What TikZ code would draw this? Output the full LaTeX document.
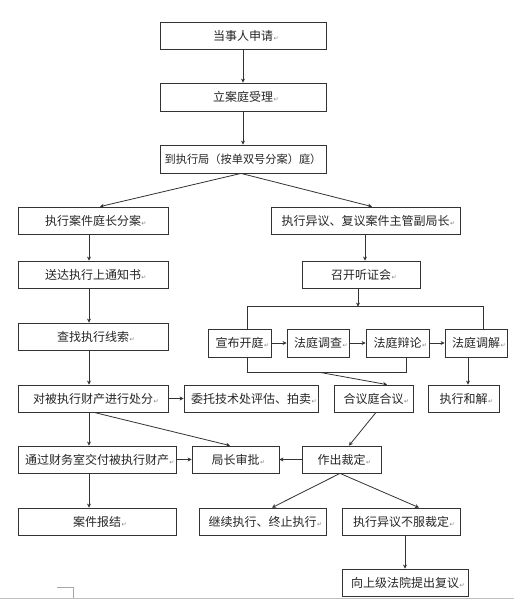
\documentclass[tikz,border=0pt]{standalone}
\usepackage{fontspec}
\setmainfont{Noto Sans CJK SC}
\newfontfamily\symfont{DejaVu Sans}
\usetikzlibrary{arrows.meta}
\definecolor{ln}{HTML}{333333}
\newcommand{\parmark}{\rlap{\kern0.5pt\symfont\fontsize{6}{6}\selectfont\color{gray}↵}}
\newcommand{\bt}[1]{\raisebox{-4.5pt}{#1\parmark}}
\newcommand{\btn}[1]{\raisebox{-4.5pt}{#1}}
\tikzset{
  box/.style={draw=ln, line width=0.8pt, inner sep=0pt, minimum height=27pt, font=\fontsize{12}{12}\selectfont, text=black!85},
  arr/.style={draw=ln, line width=0.8pt, -{Stealth[length=4pt,width=4pt]}},
  ln/.style={draw=ln, line width=0.8pt}
}
\begin{document}
\begin{tikzpicture}[x=1pt,y=-1pt]
\useasboundingbox (0,0) rectangle (514,600);
\fill[white] (0,0) rectangle (514,600);
% nodes
\node[box,minimum width=166pt] (a1) at (243,35.5) {\bt{当事人申请}};
\node[box,minimum width=166pt,minimum height=28pt] (a2) at (243,97) {\bt{立案庭受理}};
\node[box,minimum width=166pt,minimum height=28pt,font=\fontsize{11.2}{12}\selectfont] (a3) at (243,159) {\btn{到执行局（按单双号分案）庭）}};
\node[box,minimum width=150pt] (l1) at (93,220.5) {\bt{执行案件庭长分案}};
\node[box,minimum width=189pt] (r1) at (365.5,220.5) {\bt{执行异议、复议案件主管副局长}};
\node[box,minimum width=150pt] (l2) at (93,274.5) {\bt{送达执行上通知书}};
\node[box,minimum width=118pt] (r2) at (361,274.5) {\bt{召开听证会}};
\node[box,minimum width=150pt] (l3) at (93,336.5) {\bt{查找执行线索}};
\node[box,minimum width=63pt,minimum height=28pt] (p1) at (239.5,343) {\bt{宣布开庭}};
\node[box,minimum width=62pt,minimum height=28pt] (p2) at (318,343) {\bt{法庭调查}};
\node[box,minimum width=63pt,minimum height=28pt] (p3) at (397.5,343) {\bt{法庭辩论}};
\node[box,minimum width=62pt,minimum height=28pt] (p4) at (476,343) {\bt{法庭调解}};
\node[box,minimum width=150pt] (l4) at (93,398.5) {\bt{对被执行财产进行处分}};
\node[box,minimum width=134pt] (m4) at (251,398.5) {\bt{委托技术处评估、拍卖}};
\node[box,minimum width=79pt] (h4) at (373.5,398.5) {\bt{合议庭合议}};
\node[box,minimum width=71pt] (j4) at (463.5,398.5) {\bt{执行和解}};
\node[box,minimum width=158pt] (l5) at (97,459.5) {\bt{通过财务室交付被执行财产}};
\node[box,minimum width=87pt] (m5) at (235.5,459.5) {\bt{局长审批}};
\node[box,minimum width=79pt] (z5) at (341.5,459.5) {\bt{作出裁定}};
\node[box,minimum width=158pt] (l6) at (97,521.5) {\bt{案件报结}};
\node[box,minimum width=127pt] (m6) at (262.5,521.5) {\bt{继续执行、终止执行}};
\node[box,minimum width=118pt] (r6) at (401,521.5) {\bt{执行异议不服裁定}};
\node[box,minimum width=126pt] (f7) at (405,582.5) {\bt{向上级法院提出复议}};
% connectors
\draw[arr] (a1.south) -- (a2.north);
\draw[arr] (a2.south) -- (a3.north);
\draw[arr] ([xshift=-2pt]a3.south) -- ([xshift=7pt]l1.north);
\draw[arr] ([xshift=-2pt]a3.south) -- ([xshift=6.5pt]r1.north);
\draw[arr] ([xshift=-4pt]l1.south) -- ([xshift=-4pt]l2.north);
\draw[arr] ([xshift=-4pt]l2.south) -- ([xshift=-4pt]l3.north);
\draw[arr] ([xshift=-4pt]l3.south) -- ([xshift=-4pt]l4.north);
\draw[arr] ([xshift=-0.5pt]r1.south) -- ([xshift=-0.5pt]r1.south |- r2.north);
\coordinate (tl) at ([xshift=7.5pt,yshift=22pt]p1.north);
\coordinate (tr) at ([xshift=7pt,yshift=22pt]p4.north);
\draw[ln] ([xshift=7.5pt]p1.north) -- (tl) -- (tr) -- ([xshift=7pt]p4.north);
\draw[arr] ([xshift=-3pt]r2.south) -- ([xshift=-3pt]r2.south |- tl);
\draw[arr] (p1.east) -- (p2.west);
\draw[arr] (p2.east) -- (p3.west);
\draw[arr] (p3.east) -- (p4.west);
\coordinate (bl) at ([xshift=7.5pt,yshift=-15pt]p1.south);
\coordinate (br) at ([xshift=8.5pt,yshift=-15pt]p3.south);
\coordinate (bm) at ([xshift=73pt]bl);
\draw[ln] ([xshift=7.5pt]p1.south) -- (bl) -- (br) -- ([xshift=8.5pt]p3.south);
\draw[arr] (bm) -- ([xshift=13.5pt]h4.north);
\draw[arr] ([xshift=-8pt]p4.south) -- ([xshift=-8pt]p4.south |- j4.north);
\draw[arr] (l4.east) -- (m4.west);
\draw[arr] ([xshift=-4pt]l4.south) -- ([xshift=-4pt]l4.south |- l5.north);
\draw[arr] ([xshift=1pt]l4.south) -- ([xshift=-5.5pt]m5.north);
\draw[arr] (l5.east) -- (m5.west);
\draw[arr] (z5.west) -- (m5.east);
\draw[arr] ([xshift=2.5pt]h4.south) -- ([xshift=7.5pt]z5.north);
\draw[arr] ([xshift=-8pt]l5.south) -- ([xshift=-8pt]l5.south |- l6.north);
\draw[arr] ([xshift=-1.5pt]z5.south) -- ([xshift=9.5pt]m6.north);
\draw[arr] ([xshift=-1.5pt]z5.south) -- ([xshift=18pt]r6.north);
\draw[arr] ([xshift=4pt]r6.south) -- ([xshift=4pt]r6.south |- f7.north);
% page artifacts
\coordinate (c1) at (57,587);
\coordinate (c2) at (73,587);
\coordinate (c3) at (73,598);
\draw[gray!70, line width=0.5pt] (c1) -- (c2) -- (c3);
\coordinate (g1) at (0,598.5);
\coordinate (g2) at (514,598.5);
\draw[gray!50, line width=1pt] (g1) -- (g2);
\end{tikzpicture}
\end{document}
